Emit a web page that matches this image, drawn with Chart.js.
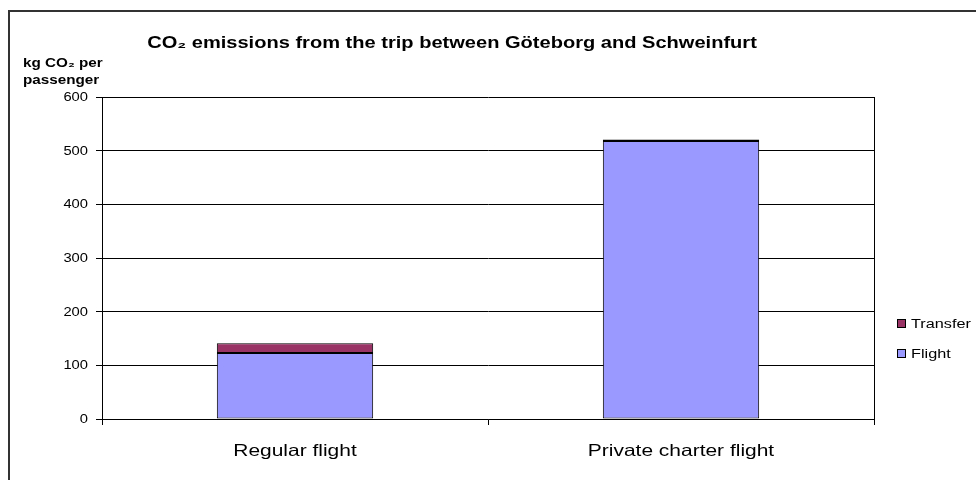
<!DOCTYPE html>
<html>
<head>
<meta charset="utf-8">
<script src="https://cdn.jsdelivr.net/npm/chart.js@4.4.0/dist/chart.umd.min.js"></script>
<style>
html,body{margin:0;padding:0;background:#fff;}
#wrap{width:976px;height:480px;}
</style>
</head>
<body>
<div id="wrap"><canvas id="c" width="976" height="480"></canvas></div>
<script>
const categories = ["Regular flight", "Private charter flight"];
const flightValues = [123, 518];
const transferValues = [18, 3];
const yTicks = [0, 100, 200, 300, 400, 500, 600];
const titleText = "CO\u2082 emissions from the trip between G\u00f6teborg and Schweinfurt";
const yTitleLines = ["kg CO\u2082 per", "passenger"];

const FONT = "'Liberation Sans', Arial, sans-serif";

function txt(ctx, s, x, y, align, font, sx) {
  ctx.save();
  ctx.font = font;
  ctx.textAlign = align;
  ctx.textBaseline = 'middle';
  ctx.fillStyle = '#000';
  ctx.translate(x, y);
  ctx.scale(sx, 1);
  ctx.fillText(s, 0, 0);
  ctx.restore();
}

const framePlugin = {
  id: 'frame',
  beforeDraw(chart) {
    const ctx = chart.ctx;
    ctx.save();
    ctx.fillStyle = '#fff';
    ctx.fillRect(0, 0, chart.width, chart.height);
    ctx.strokeStyle = '#333';
    ctx.lineWidth = 2;
    ctx.beginPath();
    ctx.moveTo(9, 481);
    ctx.lineTo(9, 11);
    ctx.lineTo(980, 11);
    ctx.stroke();
    ctx.restore();
  },
  afterDatasetsDraw(chart) {
    const ctx = chart.ctx;
    const a = chart.chartArea;
    ctx.save();
    ctx.strokeStyle = '#000';
    ctx.lineWidth = 1;
    ctx.beginPath();
    ctx.moveTo(Math.round(a.right) + 0.5, a.top);
    ctx.lineTo(Math.round(a.right) + 0.5, a.bottom);
    ctx.stroke();
    ctx.restore();

    // title
    txt(ctx, titleText, 452, 43, 'center', "bold 17px " + FONT, 1.18);
    // y title
    txt(ctx, yTitleLines[0], 23, 64, 'left', "bold 12.5px " + FONT, 1.22);
    txt(ctx, yTitleLines[1], 23, 81, 'left', "bold 12.5px " + FONT, 1.22);

    // y tick labels via the y scale
    const ys = chart.scales.y;
    yTicks.forEach(v => {
      txt(ctx, String(v), 88, ys.getPixelForValue(v) + 0.5, 'right', "12.5px " + FONT, 1.18);
    });
    // x category labels via the x scale
    const xs = chart.scales.x;
    categories.forEach((c, i) => {
      txt(ctx, c, xs.getPixelForValue(i), 451, 'center', "16.5px " + FONT, 1.27);
    });

    // legend (reverse order like Excel)
    const ds = chart.data.datasets;
    let y = 324;
    for (let i = ds.length - 1; i >= 0; i--) {
      ctx.save();
      ctx.fillStyle = ds[i].backgroundColor;
      ctx.fillRect(898, y - 4, 8, 8);
      ctx.strokeStyle = '#000';
      ctx.lineWidth = 1;
      ctx.strokeRect(897.5, y - 4.5, 8, 8);
      ctx.restore();
      txt(ctx, ds[i].label, 911, y + 1, 'left', "12.5px " + FONT, 1.3);
      y += 30;
    }
  }
};

new Chart(document.getElementById('c'), {
  type: 'bar',
  data: {
    labels: categories,
    datasets: [
      { label: 'Flight', data: flightValues, backgroundColor: '#9999FF', borderColor: '#000', borderWidth: 1, borderSkipped: false },
      { label: 'Transfer', data: transferValues, backgroundColor: '#993366', borderColor: '#000', borderWidth: 1, borderSkipped: false }
    ]
  },
  options: {
    responsive: false,
    animation: false,
    devicePixelRatio: 1,
    layout: { padding: { left: 0, right: 102, top: 97, bottom: 0 } },
    plugins: { legend: { display: false }, title: { display: false }, tooltip: { enabled: false } },
    datasets: { bar: { categoryPercentage: 1, barPercentage: 0.405 } },
    scales: {
      x: {
        stacked: true,
        afterFit(s) { s.height = 61; },
        grid: { offset: true, drawOnChartArea: false, color: '#000', tickLength: 6, tickColor: '#000' },
        border: { color: '#000', width: 1 },
        ticks: { display: false }
      },
      y: {
        stacked: true,
        min: 0, max: 600,
        afterFit(s) { s.width = 102; },
        afterBuildTicks(s) { s.ticks = yTicks.map(v => ({ value: v })); },
        grid: { color: '#000', lineWidth: 1, tickLength: 6, tickColor: '#000' },
        border: { color: '#000', width: 1 },
        ticks: { display: false }
      }
    }
  },
  plugins: [framePlugin]
});
</script>
</body>
</html>
